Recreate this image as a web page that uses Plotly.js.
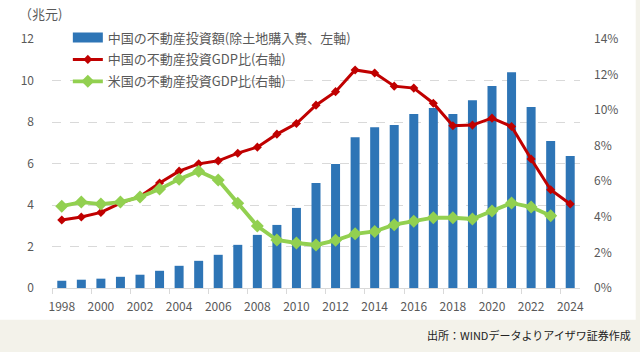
<!DOCTYPE html>
<html>
<head>
<meta charset="utf-8">
<script src="https://cdn.plot.ly/plotly-3.0.1.min.js"></script>
<style>html,body{margin:0;padding:0;background:#F3F2EA;}#chart{width:640px;height:352px;}</style>
</head>
<body>
<div id="chart"></div>
<script>
const years = [1998,1999,2000,2001,2002,2003,2004,2005,2006,2007,2008,2009,2010,2011,2012,2013,2014,2015,2016,2017,2018,2019,2020,2021,2022,2023,2024];
const chinaInvest = [0.35,0.40,0.45,0.54,0.64,0.83,1.07,1.31,1.60,2.08,2.56,3.04,3.86,5.06,5.98,7.27,7.75,7.85,8.38,8.67,8.38,9.05,9.73,10.40,8.72,7.08,6.36];
const chinaGdpRatio = [3.82,3.99,4.25,4.77,5.15,5.90,6.57,6.98,7.15,7.58,7.92,8.65,9.25,10.28,11.04,12.26,12.09,11.35,11.24,10.39,9.12,9.16,9.55,9.08,7.25,5.52,4.72];
const usYears = [1998,1999,2000,2001,2002,2003,2004,2005,2006,2007,2008,2009,2010,2011,2012,2013,2014,2015,2016,2017,2018,2019,2020,2021,2022,2023];
const usGdpRatio = [4.60,4.83,4.72,4.83,5.11,5.56,6.12,6.57,6.07,4.77,3.48,2.70,2.53,2.42,2.68,3.05,3.18,3.56,3.76,3.95,3.95,3.88,4.33,4.78,4.55,4.06];
const leftTicks = [0,2,4,6,8,10,12];
const rightTicks = [0,2,4,6,8,10,12,14];
const xLabelYears = [1998,2000,2002,2004,2006,2008,2010,2012,2014,2016,2018,2020,2022,2024];
const names = ['中国の不動産投資額(除土地購入費、左軸)','中国の不動産投資GDP比(右軸)','米国の不動産投資GDP比(右軸)'];

const BLUE = '#2E75B6', RED = '#C00000', GREEN = '#92D050', GRAY = '#595959';
const FONT = '"Noto Sans CJK JP", "Noto Sans", sans-serif';

const traces = [
  {type:'bar', x:years, y:chinaInvest, width:0.46, marker:{color:BLUE}, showlegend:false, yaxis:'y', hoverinfo:'skip'},
  {type:'scatter', mode:'lines', x:[null], y:[null], name:names[0], line:{color:BLUE, width:10}, legendgroup:'a', yaxis:'y'},
  {type:'scatter', mode:'lines+markers', x:years, y:chinaGdpRatio, name:names[1], yaxis:'y2', legendgroup:'b',
   line:{color:RED, width:3}, marker:{symbol:'diamond', size:7, color:RED}},
  {type:'scatter', mode:'lines+markers', x:usYears, y:usGdpRatio, name:names[2], yaxis:'y2', legendgroup:'c',
   line:{color:GREEN, width:3.8}, marker:{symbol:'diamond', size:10, color:GREEN}}
];

const layout = {
  width:640, height:352,
  margin:{l:52, r:60, t:39, b:64, pad:0},
  paper_bgcolor:'#F3F2EA', plot_bgcolor:'rgba(0,0,0,0)',
  font:{family:FONT, size:12, color:GRAY},
  showlegend:true,
  legend:{x:0.03, xanchor:'left', y:1.066, yanchor:'top', bgcolor:'rgba(0,0,0,0)',
          font:{family:FONT, size:13, color:GRAY}, traceorder:'grouped', tracegroupgap:2},
  bargap:0.5,
  xaxis:{type:'linear', range:[1997.5,2024.5], tickmode:'array', tickvals:xLabelYears, ticktext:xLabelYears.map(String),
         ticks:'', showgrid:false, zeroline:false, showline:true, linecolor:'#D9D9D9', linewidth:1,
         ticklabelstandoff:8, tickfont:{family:FONT, size:12, color:GRAY},
         minor:{tick0:1997.5, dtick:2, ticks:'outside', ticklen:5, tickcolor:'#D9D9D9', showgrid:false}},
  yaxis:{range:[0,12], tickmode:'array', tickvals:leftTicks, ticks:'', showline:false, zeroline:false,
         showgrid:true, gridcolor:'#D9D9D9', griddash:'dash', gridwidth:1, ticklabelstandoff:17,
         tickfont:{family:FONT, size:12, color:GRAY}},
  yaxis2:{range:[0,14], overlaying:'y', side:'right', tickmode:'array', tickvals:rightTicks,
          ticktext:rightTicks.map(v=>v+'%'), ticks:'', showline:false, zeroline:false, showgrid:false,
          ticklabelstandoff:13, tickfont:{family:FONT, size:12, color:GRAY}},
  shapes:[{type:'rect', xref:'paper', yref:'paper', x0:-0.0988, x1:1.1055, y0:-0.1272, y1:1.1564,
           fillcolor:'#FFFFFF', line:{width:0}, layer:'below'}],
  annotations:[
    {text:'（兆元)', xref:'paper', yref:'paper', x:-0.066, y:1.104, xanchor:'left', yanchor:'middle', showarrow:false,
     font:{family:FONT, size:13, color:GRAY}},
    {text:'出所：WINDデータよりアイザワ証券作成', xref:'paper', yref:'paper', x:1.1, y:-0.19, xanchor:'right', yanchor:'middle',
     showarrow:false, font:{family:FONT, size:11, color:'#222222'}}
  ]
};

Plotly.newPlot('chart', traces, layout, {displayModeBar:false, staticPlot:true});
</script>
</body>
</html>
